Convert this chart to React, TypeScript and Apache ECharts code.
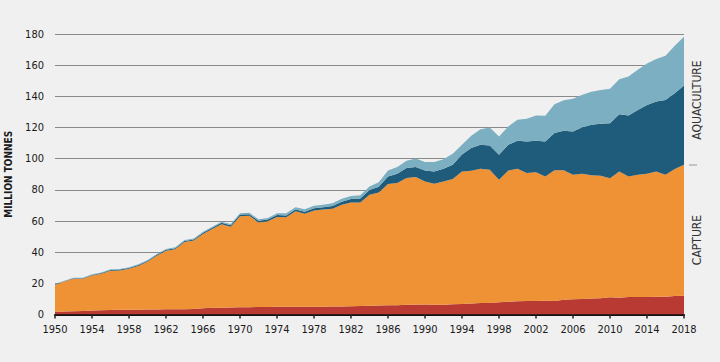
import React, { useEffect, useRef } from "react";
import * as echarts from "echarts";

const years: string[] = [];
for (let y = 1950; y <= 2018; y++) years.push(String(y));

const inlandCapture = [
  1.8, 2.0, 2.1, 2.2, 2.6, 2.8, 2.9, 3.0, 3.0, 3.1,
  3.2, 3.2, 3.3, 3.3, 3.4, 3.5, 4.0, 4.3, 4.4, 4.5,
  4.6, 4.7, 4.8, 4.8, 4.9, 4.9, 5.0, 5.0, 5.0, 5.0,
  5.1, 5.2, 5.3, 5.4, 5.6, 5.8, 5.9, 6.0, 6.2, 6.3,
  6.4, 6.3, 6.3, 6.5, 6.8, 7.0, 7.3, 7.4, 7.8, 8.2,
  8.5, 8.6, 8.6, 8.8, 8.7, 9.4, 9.8, 10.0, 10.2, 10.4,
  11.1, 10.8, 11.2, 11.2, 11.3, 11.4, 11.4, 11.9, 12.0,
];

const marineCapture = [
  17.2, 19.1, 20.9, 20.7, 22.4, 23.4, 25.2, 25.3, 26.4, 28.1,
  30.6, 34.5, 37.6, 38.5, 43.1, 44.0, 47.6, 50.5, 53.5, 51.8,
  58.5, 58.7, 54.3, 55.0, 57.7, 57.5, 61.2, 59.7, 61.8, 62.3,
  62.8, 65.3, 66.6, 66.5, 71.3, 72.5, 77.9, 78.4, 81.4, 81.9,
  79.0, 77.6, 79.1, 80.4, 85.0, 85.2, 86.2, 85.5, 78.7, 84.2,
  85.0, 82.2, 82.7, 79.8, 83.8, 83.1, 79.9, 80.3, 79.1, 78.6,
  76.4, 81.0, 77.4, 78.5, 79.0, 80.4, 78.3, 81.4, 84.1,
];

const inlandAquaculture = [
  0.3, 0.3, 0.3, 0.4, 0.4, 0.4, 0.5, 0.5, 0.5, 0.5,
  0.6, 0.6, 0.6, 0.7, 0.7, 0.7, 0.8, 0.8, 0.9, 0.9,
  1.0, 1.0, 1.1, 1.1, 1.2, 1.2, 1.2, 1.3, 1.4, 1.5,
  1.7, 1.9, 2.2, 2.6, 3.0, 3.6, 4.8, 5.9, 6.4, 6.4,
  7.0, 7.9, 8.1, 9.2, 10.8, 14.6, 15.4, 15.6, 16.0, 16.5,
  18.0, 20.2, 20.2, 22.4, 23.9, 25.4, 27.7, 29.9, 32.4, 33.4,
  35.3, 36.7, 39.1, 41.6, 44.2, 44.9, 48.0, 48.7, 50.8,
];

const marineAquaculture = [
  0.3, 0.3, 0.3, 0.3, 0.4, 0.4, 0.4, 0.4, 0.4, 0.5,
  0.5, 0.5, 0.5, 0.6, 0.6, 0.6, 0.7, 0.7, 0.7, 0.8,
  0.8, 0.9, 1.0, 1.1, 1.2, 1.3, 1.4, 1.5, 1.6, 1.7,
  1.8, 1.9, 2.0, 2.1, 2.3, 2.9, 3.8, 4.3, 4.6, 5.5,
  5.4, 6.0, 6.2, 7.0, 6.3, 7.9, 10.0, 11.5, 11.7, 11.7,
  13.4, 14.6, 16.2, 16.5, 18.6, 19.6, 21.0, 20.8, 21.3, 21.6,
  22.0, 22.5, 25.0, 25.7, 26.5, 27.3, 28.3, 30.5, 31.4,
];

const FONT = "'Liberation Sans Narrow', 'DejaVu Sans Condensed', 'Roboto', sans-serif";
const TEXT = "#1a1a1a";

export default function App() {
  const ref = useRef<HTMLDivElement>(null);

  useEffect(() => {
    if (!ref.current) return;
    const chart = echarts.init(ref.current, null, { renderer: "svg" });

    const mk = (name: string, data: number[], color: string) => ({
      name,
      type: "line",
      stack: "total",
      data,
      symbol: "none",
      smooth: false,
      lineStyle: { width: 0 },
      areaStyle: { color, opacity: 1 },
      itemStyle: { color },
      emphasis: { disabled: true },
    });

    chart.setOption({
      animation: false,
      backgroundColor: "#f0f0f0",
      textStyle: { fontFamily: FONT },
      grid: {
        left: 55,
        right: 36,
        top: 34,
        bottom: 47.5,
        containLabel: false,
        outerBoundsMode: "none",
      },
      xAxis: {
        type: "category",
        data: years,
        boundaryGap: false,
        axisLine: { show: true, lineStyle: { color: "#111", width: 2 } },
        axisTick: {
          show: true,
          interval: 3,
          length: 4,
          lineStyle: { color: "#222", width: 1.5 },
        },
        axisLabel: {
          interval: 3,
          color: TEXT,
          fontSize: 11,
          fontFamily: FONT,
          margin: 9,
        },
        splitLine: { show: false },
      },
      yAxis: {
        type: "value",
        min: 0,
        max: 180,
        interval: 20,
        name: "MILLION TONNES",
        nameLocation: "middle",
        nameGap: 42,
        nameTextStyle: {
          color: TEXT,
          fontWeight: "bold",
          fontSize: 10,
          fontFamily: FONT,
        },
        axisLine: { show: false },
        axisTick: { show: false },
        axisLabel: { color: TEXT, fontSize: 11, fontFamily: FONT, margin: 11 },
        splitLine: { show: true, lineStyle: { color: "#8a8a8a", width: 1 } },
      },
      series: [
        mk("Inland capture", inlandCapture, "#b83a33"),
        mk("Marine capture", marineCapture, "#ef9135"),
        mk("Inland aquaculture", inlandAquaculture, "#1f5b7a"),
        mk("Marine aquaculture", marineAquaculture, "#7cafc1"),
      ],
      graphic: [
        {
          type: "text",
          x: 697,
          y: 100,
          rotation: Math.PI / 2,
          style: {
            text: "AQUACULTURE",
            fill: "#333",
            font: `12px ${FONT}`,
            align: "center",
            verticalAlign: "middle",
          },
        },
        {
          type: "text",
          x: 697,
          y: 240,
          rotation: Math.PI / 2,
          style: {
            text: "CAPTURE",
            fill: "#333",
            font: `12px ${FONT}`,
            align: "center",
            verticalAlign: "middle",
          },
        },
        {
          type: "line",
          shape: { x1: 689, y1: 165, x2: 697, y2: 165 },
          style: { stroke: "#999", lineWidth: 1 },
        },
      ],
    });

    return () => chart.dispose();
  }, []);

  return (
    <div
      ref={ref}
      style={{ position: "absolute", left: 0, top: 0, width: 720, height: 362 }}
    />
  );
}
